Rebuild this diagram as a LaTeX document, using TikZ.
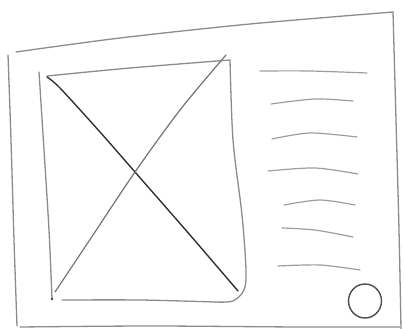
\documentclass[tikz,border=0pt]{standalone}
\begin{document}
\begin{tikzpicture}[x=1pt,y=-1pt,
  pencil/.style={draw=black!45,line width=1.3pt,line cap=round,line join=round},
  lightpencil/.style={draw=black!38,line width=1.2pt,line cap=round},
  darkpencil/.style={draw=black!80,line width=1.4pt,line cap=round},
  midpencil/.style={draw=black!55,line width=1.2pt,line cap=round}]
\useasboundingbox[fill=white] (0,0) rectangle (404,329);
% outer frame
\draw[pencil] plot[smooth] coordinates {(16,52) (120,38) (250,24) (393,12)};
\draw[pencil] plot[smooth] coordinates {(393,12) (396,120) (399,230) (401,329)};
\draw[pencil] plot[smooth] coordinates {(8,55) (11,140) (14,240) (17,326)};
\draw[pencil] plot[smooth] coordinates {(20,327) (150,326) (300,327) (400,327)};
% image box
\draw[pencil] plot[smooth] coordinates {(39,72) (44,150) (49,230) (52,299)};
\fill[black!75] (52,299) circle (1.3);
\draw[pencil] plot[smooth] coordinates {(47,76) (130,68) (230,60)};
\draw[pencil] plot[smooth] coordinates {(230,60) (233,140) (242,215) (246,270) (244,290) (233,301) (215,302)};
\draw[pencil] plot[smooth] coordinates {(62,300) (140,300) (215,302)};
% diagonals
\draw[darkpencil] plot[smooth] coordinates {(47,77) (60,88) (100,132) (135,172) (190,235) (238,291)};
\draw[midpencil] plot[smooth] coordinates {(226,55) (180,110) (135,172) (95,232) (55,292)};
% text lines
\draw[lightpencil] plot[smooth] coordinates {(260,71) (310,71) (367,73)};
\draw[lightpencil] plot[smooth] coordinates {(271,104) (315,99) (353,101)};
\draw[lightpencil] plot[smooth] coordinates {(272,139) (310,133) (357,137)};
\draw[lightpencil] plot[smooth] coordinates {(268,171) (315,168) (358,174)};
\draw[lightpencil] plot[smooth] coordinates {(284,205) (320,200) (355,205)};
\draw[lightpencil] plot[smooth] coordinates {(282,228) (315,230) (353,237)};
\draw[lightpencil] plot[smooth] coordinates {(278,266) (320,265) (360,270)};
% circle button
\draw[darkpencil,draw=black!70] (365,301) ellipse (16.5 and 17);
\end{tikzpicture}
\end{document}
